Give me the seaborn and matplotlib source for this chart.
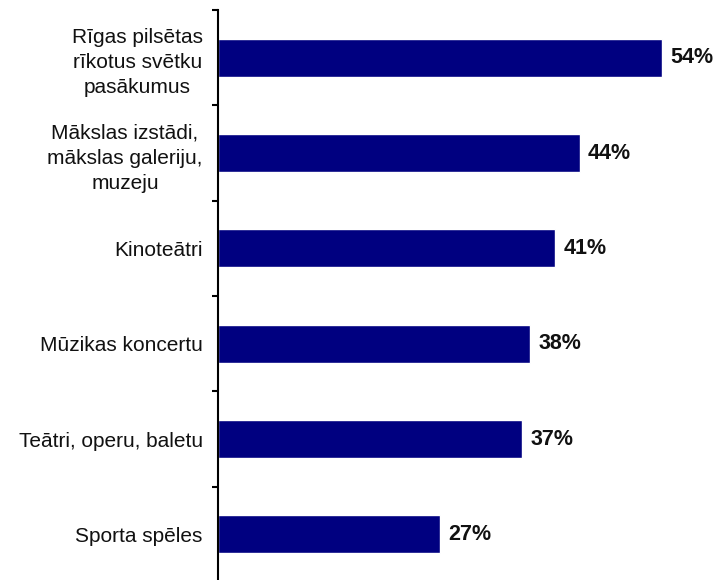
import matplotlib
matplotlib.use("Agg")
import matplotlib.pyplot as plt
import seaborn as sns
import pandas as pd
import numpy as np

categories = [
    "Rīgas pilsētas\nrīkotus svētku\npasākumus",
    "Mākslas izstādi,\nmākslas galeriju,\nmuzeju",
    "Kinoteātri",
    "Mūzikas koncertu",
    "Teātri, operu, baletu",
    "Sporta spēles",
]
values = [54, 44, 41, 38, 37, 27]

sns.set_style("white")
plt.rcParams["font.family"] = ["Liberation Sans", "DejaVu Sans"]

df = pd.DataFrame({"cat": categories, "val": values})

fig = plt.figure(figsize=(7.17, 5.8), dpi=100)
ax = fig.add_axes([218 / 717, -2 / 580, (711 - 218) / 717, 572 / 580])
sns.barplot(data=df, x="val", y="cat", orient="h", color="#000080",
            width=0.4, saturation=1, ax=ax)

ax.set_xlim(0, 60)
ax.set_ylim(len(categories) - 0.5, -0.5)
for s in ["top", "right", "bottom"]:
    ax.spines[s].set_visible(False)
ax.spines["left"].set_color("black")
ax.spines["left"].set_linewidth(1.5)
ax.set_xticks([])
ax.set_xlabel("")
ax.set_ylabel("")
ax.tick_params(axis="y", which="major", length=0, pad=11, labelsize=15,
               labelcolor="#111111")
ax.set_yticks(np.arange(len(categories)) - 0.5, minor=True)
ax.tick_params(axis="y", which="minor", left=True, length=4.5, width=1.5,
               color="black", direction="out")
for lbl in ax.get_yticklabels():
    lbl.set_horizontalalignment("right")
    lbl.set_multialignment("center")
    lbl.set_linespacing(1.4)

for c in ax.containers:
    ax.bar_label(c, labels=[f"{v}%" for v in values], padding=6,
                 fontsize=15.5, fontweight="bold", color="#111111")

fig.savefig("out.png", dpi=100)
